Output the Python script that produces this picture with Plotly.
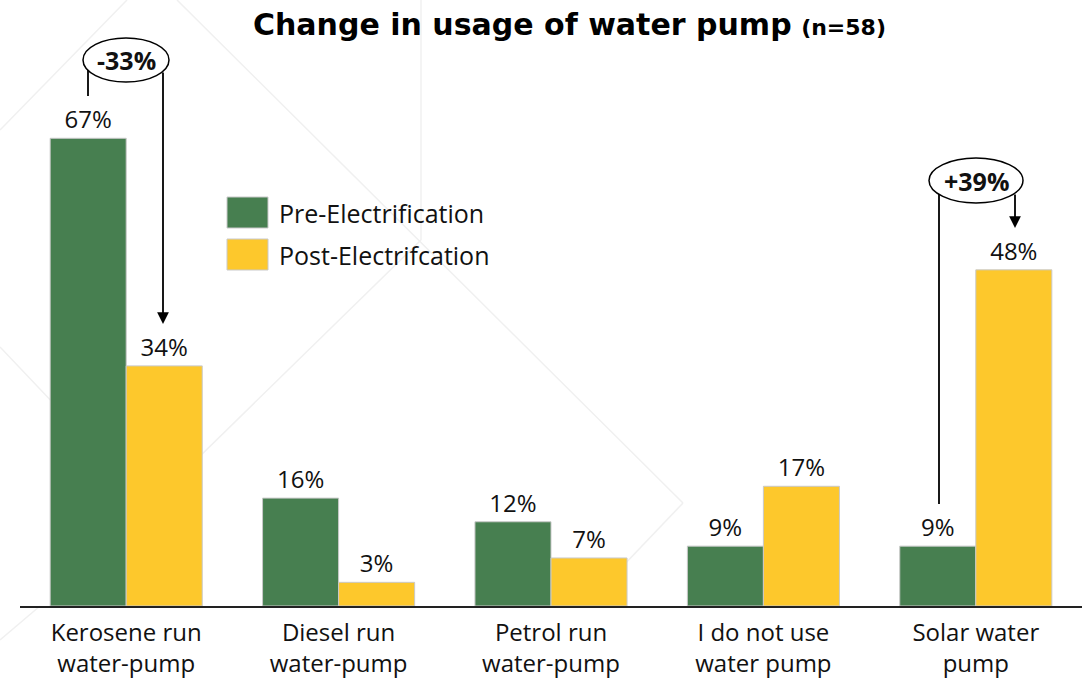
import plotly.graph_objects as go

# ---------------- data ----------------
categories = ["Kerosene run<br>water-pump", "Diesel run<br>water-pump",
              "Petrol run<br>water-pump", "I do not use<br>water pump",
              "Solar water<br>pump"]
pre_values = [67.2, 15.5, 12.1, 8.6, 8.6]
post_values = [34.5, 3.4, 6.9, 17.2, 48.3]
pre_labels = ["67%", "16%", "12%", "9%", "9%"]
post_labels = ["34%", "3%", "7%", "17%", "48%"]
series_names = ["Pre-Electrification", "Post-Electrifcation"]
change_labels = ["-33%", "+39%"]
title_main = "Change in usage of water pump"
title_sub = "(n=58)"

# ---------------- styling / geometry ----------------
W, H = 1087, 679
L, R, T, B = 20, 5, 0, 73
PW, PH = W - L - R, H - T - B
PPU = 6.96  # pixels per percentage unit
YMAX = PH / PPU
CAT_W = PW / len(categories)
GREEN = "#477F50"
YELLOW = "#FDC82C"
BORDER = "#c9c9c9"
BODY_FONT = "Open Sans"


def xd(px):
    return (px - L) / CAT_W - 0.5


def yd(py):
    return (T + PH - py) / PPU


def xp(px):
    return (px - L) / PW


def yp(py):
    return (T + PH - py) / PH


fig = go.Figure()
fig.add_trace(go.Bar(x=list(range(len(categories))), y=pre_values, name=series_names[0],
                     text=pre_labels, textposition="outside",
                     marker=dict(color=GREEN, line=dict(color=BORDER, width=1)),
                     textfont=dict(family=BODY_FONT, size=24, color="#111"),
                     cliponaxis=False, showlegend=False))
fig.add_trace(go.Bar(x=list(range(len(categories))), y=post_values, name=series_names[1],
                     text=post_labels, textposition="outside",
                     marker=dict(color=YELLOW, line=dict(color=BORDER, width=1)),
                     textfont=dict(family=BODY_FONT, size=24, color="#111"),
                     cliponaxis=False, showlegend=False))

shapes = []
# faint decorative background lines
bg = [((0, 130), (127, 0)), ((177, 0), (683, 503)), ((683, 503), (600, 590)),
      ((421, 240), (150, 505)), ((0, 347), (150, 505)), ((421, 0), (421, 240)),
      ((0, 640), (40, 606))]
for (x0, y0), (x1, y1) in bg:
    shapes.append(dict(type="line", xref="paper", yref="paper", x0=xp(x0), y0=yp(y0),
                       x1=xp(x1), y1=yp(y1), layer="below",
                       line=dict(color="#f0f0f0", width=1.5)))

# legend boxes
for i, (col, top) in enumerate([(GREEN, 197), (YELLOW, 239)]):
    shapes.append(dict(type="rect", xref="paper", yref="paper", x0=xp(227), x1=xp(268),
                       y0=yp(top + 31), y1=yp(top), fillcolor=col,
                       line=dict(color=BORDER, width=1)))

# connector lines (non-arrow)
shapes.append(dict(type="line", xref="x", yref="y", x0=xd(88), x1=xd(88), y0=yd(70), y1=yd(96),
                   line=dict(color="black", width=1.8)))
shapes.append(dict(type="line", xref="x", yref="y", x0=xd(939), x1=xd(939), y0=yd(194), y1=yd(504),
                   line=dict(color="black", width=1.8)))
# ovals
shapes.append(dict(type="circle", xref="x", yref="y", x0=xd(83), x1=xd(169), y0=yd(82), y1=yd(38),
                   fillcolor="white", line=dict(color="black", width=1.5)))
shapes.append(dict(type="circle", xref="x", yref="y", x0=xd(929), x1=xd(1023), y0=yd(203), y1=yd(158),
                   fillcolor="white", line=dict(color="black", width=1.5)))

annotations = []
# title
annotations.append(dict(xref="paper", yref="paper", x=xp(569), y=yp(24), xanchor="center",
                        yanchor="middle", showarrow=False,
                        text=f"<b>{title_main}</b> <b><span style='font-size:22px'>{title_sub}</span></b>",
                        font=dict(family="DejaVu Sans", size=30, color="black")))
# legend text
for name, cy in zip(series_names, [213, 255]):
    annotations.append(dict(xref="paper", yref="paper", x=xp(277), y=yp(cy), xanchor="left",
                            yanchor="middle", showarrow=False, text=name,
                            font=dict(family=BODY_FONT, size=25, color="#111")))
# oval texts
for lab, cx, cy in [(change_labels[0], 126, 60), (change_labels[1], 976, 181)]:
    annotations.append(dict(xref="x", yref="y", x=xd(cx), y=yd(cy), showarrow=False,
                            text=f"<b>{lab}</b>", xanchor="center", yanchor="middle",
                            font=dict(family=BODY_FONT, size=25, color="#111")))
# arrows
for axp, y_from, y_to in [(163, 71, 324), (1015, 193, 228)]:
    annotations.append(dict(xref="x", yref="y", axref="x", ayref="y",
                            x=xd(axp), y=yd(y_to), ax=xd(axp), ay=yd(y_from),
                            showarrow=True, arrowhead=2, arrowsize=1.3, arrowwidth=1.8,
                            arrowcolor="black", text=""))

fig.update_layout(
    width=W, height=H,
    margin=dict(l=L, r=R, t=T, b=B, pad=0),
    paper_bgcolor="white", plot_bgcolor="rgba(0,0,0,0)",
    barmode="group", bargap=0.284, bargroupgap=0,
    shapes=shapes, annotations=annotations,
    showlegend=False,
    xaxis=dict(range=[-0.5, len(categories) - 0.5], tickmode="array",
               tickvals=list(range(len(categories))), ticktext=categories,
               tickfont=dict(family=BODY_FONT, size=24, color="#111"),
               ticklabelstandoff=4,
               showline=True, linecolor="#222", linewidth=2, ticks="",
               showgrid=False, zeroline=False, fixedrange=True),
    yaxis=dict(range=[0, YMAX], visible=False, showgrid=False, zeroline=False, fixedrange=True),
)

fig.write_html("out.html")
